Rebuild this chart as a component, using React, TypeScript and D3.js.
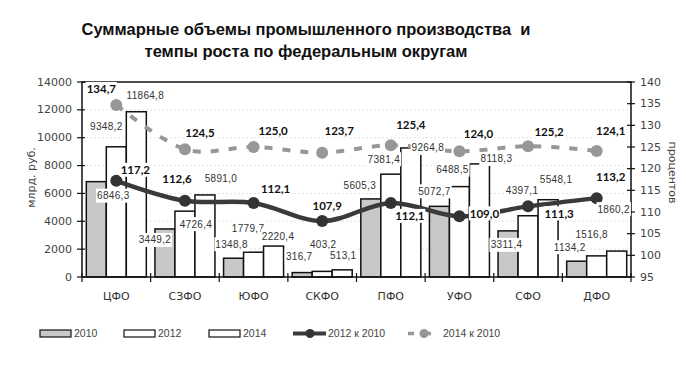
import React from "react";
import * as d3 from "d3";

const categories = ["ЦФО", "СЗФО", "ЮФО", "СКФО", "ПФО", "УФО", "СФО", "ДФО"];
const vol2010 = [6846.3, 3449.2, 1348.8, 316.7, 5605.3, 5072.7, 3311.4, 1134.2];
const vol2012 = [9348.2, 4726.4, 1779.7, 403.2, 7381.4, 6488.5, 4397.1, 1516.8];
const vol2014 = [11864.8, 5891.0, 2220.4, 513.1, 9264.8, 8118.3, 5548.1, 1860.2];
const growth2012 = [117.2, 112.6, 112.1, 107.9, 112.1, 109.0, 111.3, 113.2];
const growth2014 = [134.7, 124.5, 125.0, 123.7, 125.4, 124.0, 125.2, 124.1];
const leftTicks = [0, 2000, 4000, 6000, 8000, 10000, 12000, 14000];
const rightTicks = [95, 100, 105, 110, 115, 120, 125, 130, 135, 140];
const barSeriesNames = ["2010", "2012", "2014"];
const lineSeriesNames = ["2012 к 2010", "2014 к 2010"];
const titleLines = ["Суммарные объемы промышленного производства  и", "темпы роста по федеральным округам"];

// label placement offsets (layout only)
const barLabelOffsets = [
  [[17, 14], [-10, 11], [-2, -14], [-3, -16], [-11, -13], [-5, -15], [-1.5, 14], [-7, -14]],
  [[-10, -20], [11, 13], [-5.5, -24], [1, -27], [-7, -15], [-7, -17], [-6, -25], [-5, -21]],
  [[9, -16], [16, -16], [4.5, -10], [1, -14], [17, 0], [17, -5], [8, -20], [-3, -42]],
];
const lineLabelOffsets = [
  [[19, -11], [-8, -22], [22, -14], [5, -16], [19, 13], [25, -3], [31, 7], [14, -22]],
  [[-15, -16], [15, -17], [19.5, -17], [17, -22], [20, -21], [19, -18], [21, -15], [14, -20]],
];

const W = 686, H = 365;
const L = 82, R = 631, T = 82, B = 277;

const fmt = (v: number) => d3.format(".1f")(v).replace(".", ",");

export default function App() {
  const x = d3.scaleBand<string>().domain(categories).range([L, R]).paddingInner(0).paddingOuter(0);
  const yL = d3.scaleLinear().domain([0, 14000]).range([B, T]);
  const yR = d3.scaleLinear().domain([95, 140]).range([B, T]);
  const barW = 20;
  const center = (i: number) => (x(categories[i]) as number) + x.bandwidth() / 2;
  const barSeries = [vol2010, vol2012, vol2014];
  const barFills = ["#c8c8c8", "#ffffff", "#ffffff"];
  const lineSeries = [growth2012, growth2014];

  const line = d3
    .line<number>()
    .x((_, i) => center(i))
    .y((v) => yR(v))
    .curve(d3.curveCardinal.tension(0));

  const barFont = "'Liberation Sans', Arial, sans-serif";
  const tickFont = "'DejaVu Sans', sans-serif";

  return (
    <svg width={W} height={H} style={{ position: "absolute", left: 0, top: 0, background: "#fff" }}>
      <rect x={0} y={0} width={W} height={H} fill="#fff" />
      {titleLines.map((t, i) => (
        <text key={i} x={306} y={35 + i * 22} textAnchor="middle" fontFamily="'Liberation Sans', Arial, sans-serif" fontWeight="bold" fontSize={16.5} fill="#111" style={{ whiteSpace: "pre" }}>
          {t}
        </text>
      ))}
      {/* gridlines */}
      {leftTicks.slice(1, -1).map((t) => (
        <line key={t} x1={L} x2={R} y1={yL(t)} y2={yL(t)} stroke="#e2e2e2" strokeWidth={1} strokeDasharray="2,2" />
      ))}
      {/* bars */}
      {barSeries.map((s, j) =>
        s.map((v, i) => (
          <rect key={`${j}-${i}`} x={center(i) + (j - 1) * barW - barW / 2} y={yL(v)} width={barW} height={B - yL(v)} fill={barFills[j]} stroke="#111" strokeWidth={1.5} />
        ))
      )}
      {/* frame */}
      <rect x={L} y={T} width={R - L} height={B - T} fill="none" stroke="#111" strokeWidth={1.5} />
      {/* left ticks */}
      {leftTicks.map((t) => (
        <g key={t}>
          <line x1={L - 5} x2={L + 3} y1={yL(t)} y2={yL(t)} stroke="#111" strokeWidth={1.2} />
          <text x={72} y={yL(t)} textAnchor="end" dominantBaseline="central" fontFamily={tickFont} fontSize={11} fill="#444">
            {t}
          </text>
        </g>
      ))}
      {rightTicks.map((t) => (
        <g key={t}>
          <line x1={R - 4} x2={R + 4} y1={yR(t)} y2={yR(t)} stroke="#111" strokeWidth={1.2} />
          <text x={640} y={yR(t)} textAnchor="start" dominantBaseline="central" fontFamily={tickFont} fontSize={11} fill="#444">
            {t}
          </text>
        </g>
      ))}
      {categories.map((c, i) => (
        <g key={c}>
          <line x1={x(c) as number} x2={x(c) as number} y1={B - 4} y2={B + 5} stroke="#111" strokeWidth={1.2} />
          <text x={center(i)} y={296} textAnchor="middle" dominantBaseline="central" fontFamily={tickFont} fontSize={11} fill="#333">
            {c}
          </text>
        </g>
      ))}
      <line x1={R} x2={R} y1={B - 4} y2={B + 5} stroke="#111" strokeWidth={1.2} />
      <text transform={`translate(31,${(T + B) / 2 - 2}) rotate(-90)`} textAnchor="middle" dominantBaseline="central" fontFamily={tickFont} fontSize={11} fill="#444">
        млрд. руб.
      </text>
      <text transform={`translate(672,${(T + B) / 2 - 7}) rotate(90)`} textAnchor="middle" dominantBaseline="central" fontFamily={tickFont} fontSize={11} fill="#444">
        процентов
      </text>
      {/* lines */}
      <path d={line(growth2014) || ""} fill="none" stroke="#979797" strokeWidth={4} strokeDasharray="8,10" />
      {growth2014.map((v, i) => (
        <circle key={i} cx={center(i)} cy={yR(v)} r={6} fill="#979797" />
      ))}
      <path d={line(growth2012) || ""} fill="none" stroke="#3a3a3a" strokeWidth={4.5} />
      {growth2012.map((v, i) => (
        <circle key={i} cx={center(i)} cy={yR(v)} r={6} fill="#333" />
      ))}
      {/* bar labels */}
      {barSeries.map((s, j) =>
        s.map((v, i) => {
          const t = fmt(v);
          const w = t.length * 5.4 + 2;
          const cx = center(i) + (j - 1) * barW + barLabelOffsets[j][i][0];
          const cy = yL(v) + barLabelOffsets[j][i][1];
          return (
            <g key={`bl-${j}-${i}`}>
              <rect x={cx - w / 2} y={cy - 7} width={w} height={14} fill="#fff" />
              <text x={cx} y={cy} textAnchor="middle" dominantBaseline="central" fontFamily={barFont} fontSize={10} fill="#333" letterSpacing={0.3}>
                {t}
              </text>
            </g>
          );
        })
      )}
      {/* line labels */}
      {lineSeries.map((s, j) =>
        s.map((v, i) => {
          const t = fmt(v);
          const w = t.length * 5.8 + 2;
          const cx = center(i) + lineLabelOffsets[j][i][0];
          const cy = yR(v) + lineLabelOffsets[j][i][1];
          return (
            <g key={`ll-${j}-${i}`}>
              <rect x={cx - w / 2} y={cy - 7} width={w} height={14} fill="#fff" />
              <text x={cx} y={cy} textAnchor="middle" dominantBaseline="central" fontFamily="Lato, sans-serif" fontWeight="bold" fontSize={11.5} fill="#111">
                {t}
              </text>
            </g>
          );
        })
      )}
      {/* legend */}
      <g fontFamily={barFont} fontSize={10.5} fill="#444">
        {barSeriesNames.map((n, j) => {
          const lx = [40, 124, 209][j];
          return (
            <g key={n}>
              <rect x={lx} y={330} width={31} height={7} fill={barFills[j]} stroke="#111" strokeWidth={1.2} />
              <text x={lx + 34} y={333} dominantBaseline="central">{n}</text>
            </g>
          );
        })}
        <line x1={293} x2={326} y1={333.5} y2={333.5} stroke="#3a3a3a" strokeWidth={4} />
        <circle cx={310} cy={333.5} r={4.5} fill="#333" />
        <text x={328} y={333} dominantBaseline="central">{lineSeriesNames[0]}</text>
        <line x1={408} x2={414} y1={333.5} y2={333.5} stroke="#979797" strokeWidth={3.5} />
        <line x1={424} x2={431} y1={333.5} y2={333.5} stroke="#979797" strokeWidth={3.5} />
        <circle cx={424} cy={333.5} r={4.5} fill="#979797" />
        <text x={443} y={333} dominantBaseline="central">{lineSeriesNames[1]}</text>
      </g>
    </svg>
  );
}
